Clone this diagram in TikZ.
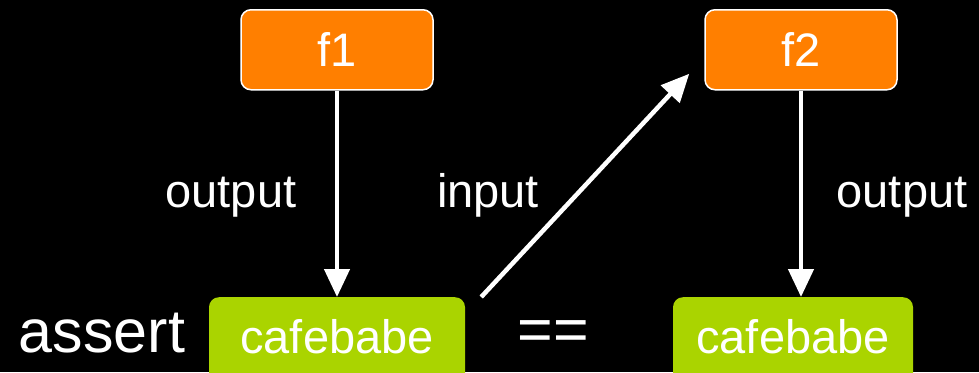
\documentclass[tikz,border=0pt]{standalone}
\usepackage{fontspec}
\setmainfont{Liberation Sans}
\usetikzlibrary{arrows.meta,calc}
\definecolor{fnorange}{HTML}{FF7F00}
\definecolor{valgreen}{HTML}{AAD400}
\begin{document}
\begin{tikzpicture}[x=1pt,y=-1pt,
  fnbox/.style={draw=white,line width=1.5pt,fill=fnorange,rounded corners=10pt,
    minimum width=192pt,inner sep=0pt,text height=57pt,text depth=23pt,
    text=white,font=\fontsize{47}{50}\selectfont,anchor=north},
  valbox/.style={fill=valgreen,rounded corners=10pt,
    inner sep=0pt,text height=56pt,text depth=60pt,
    text=white,font=\fontsize{47}{50}\selectfont,anchor=north},
  lbl/.style={text=white,font=\fontsize{47}{50}\selectfont,anchor=base,inner sep=0pt},
  big/.style={text=white,font=\fontsize{61}{64}\selectfont,anchor=base,inner sep=0pt},
  flow/.style={draw=white,line width=4.5pt,-{Triangle[length=28pt,width=25pt]}}]
  \fill[black] (0,0) rectangle (979,372);
  \useasboundingbox (0,0) rectangle (979,372);
  \clip (0,0) rectangle (979,372);

  % functions
  \node[fnbox] (f1) at (337,9) {f1};
  \node[fnbox] (f2) at (801,9) {f2};

  % values
  \node[valbox,minimum width=256pt] (g1) at (337,297) {cafebabe};
  \node[valbox,minimum width=240pt] (g2) at (793,297) {cafebabe};

  % text
  \node[big] (as) at (102,352) {assert};
  \node[big] (eq) at (553,350) {==};
  \node[lbl] (o1) at (231,207) {output};
  \node[lbl] (in) at (488,207) {input};
  \node[lbl] (o2) at (902,207) {output};

  % connectors
  \draw[flow] (f1.south) -- (f1.south |- g1.north);
  \draw[flow] (f2.south) -- (f2.south |- g2.north);
  \coordinate (inS) at ([xshift=16pt]g1.north east);
  \coordinate (inE) at ([xshift=-15pt,yshift=-24pt]f2.west);
  \draw[flow] (inS) -- (inE);
\end{tikzpicture}
\end{document}
